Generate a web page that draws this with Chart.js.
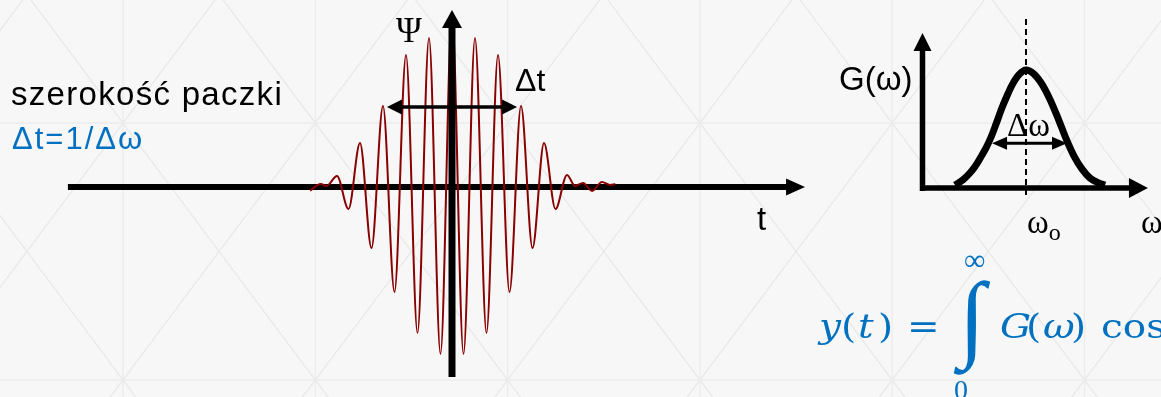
<!DOCTYPE html>
<html>
<head>
<meta charset="utf-8">
<script src="https://cdn.jsdelivr.net/npm/chart.js@4/dist/chart.umd.min.js"></script>
<style>
  html, body { margin: 0; padding: 0; }
  body { width: 1161px; height: 397px; overflow: hidden; position: relative; background: #f7f7f7; }
  #bg, #c { position: absolute; left: 0; top: 0; }
  .lbl { position: absolute; white-space: nowrap; line-height: normal; transform-origin: 0 0; }
  .bm { display: inline-block; width: 0; height: 0; vertical-align: baseline; }
</style>
</head>
<body>
<svg id="bg" width="1161" height="397" xmlns="http://www.w3.org/2000/svg"></svg>
<canvas id="c" width="1161" height="397"></canvas>
<div id="labels"></div>
<script>
// Wave packet Ψ(t): extrema of the carrier, t in carrier periods, Ψ in % of the central crest
const waveT   = [-6.17, -5.71, -5.45, -5.0, -4.5, -4.0, -3.5, -3.0, -2.5, -2.0, -1.5, -1.0, -0.5, 0.0,
                  0.5, 1.0, 1.5, 2.0, 2.5, 3.0, 3.5, 4.0, 4.5, 5.0, 5.35, 5.7, 6.09, 6.52, 6.87, 7.1];
const wavePsi = [-2.1, 1.7, 0.6, 6.4, -12.7, 25.4, -35.3, 46.8, -60.7, 76.3, -84.4, 86.1, -96.5, 100,
                 -96.5, 86.1, -84.4, 76.3, -60.7, 46.8, -35.3, 25.4, -12.7, 6.9, 0.6, 2.3, -2.3, 2.9, 1.2, 1.7];

// Spectrum G(ω), normalised to its maximum at ω0
const specOmega = [1.57, 1.96, 2.29, 2.53, 2.82, 3.07, 3.31, 3.55, 3.84, 4.08, 4.32, 4.66, 5.0,
                   5.39, 5.77, 6.16, 6.55, 6.93, 7.32, 7.71, 8.09, 8.48, 8.82];
const specG     = [0.025, 0.07, 0.127, 0.18, 0.263, 0.34, 0.43, 0.54, 0.68, 0.78, 0.87, 0.96, 1.0,
                   0.965, 0.88, 0.75, 0.59, 0.42, 0.27, 0.16, 0.085, 0.045, 0.025];
const omega0 = 5.0;

// Widths marked by the double arrows
const deltaT = [-2.83, 2.83];      // at Ψ = 46.2
const deltaTLevel = 46.2;
const deltaOmega = [3.36, 6.98];   // at G = 0.38
const deltaOmegaLevel = 0.38;

// ---- background lattice (slide decoration) ----
(function drawBackground() {
  const svg = document.getElementById('bg');
  const ns = 'http://www.w3.org/2000/svg';
  const add = (x1, y1, x2, y2, c) => {
    const l = document.createElementNS(ns, 'line');
    l.setAttribute('x1', x1); l.setAttribute('y1', y1);
    l.setAttribute('x2', x2); l.setAttribute('y2', y2);
    l.setAttribute('stroke', c); l.setAttribute('stroke-width', '1.3');
    svg.appendChild(l);
  };
  const step = 192.3, x0 = 123, yA = 123, yB = 380, k = (yB - yA) / step;
  for (let i = -4; i <= 9; i++) {
    const x = x0 + i * step;
    add(x, 0, x, 397, '#ececec');
    add(x - 30 / k, 410, x + 420 / k, -40, '#e9e9e9');
    add(x + 30 / k, 410, x - 420 / k, -40, '#e9e9e9');
  }
  add(0, yA, 1161, yA, '#ececec');
  add(0, yB, 1161, yB, '#ececec');
})();

// ---- arrows and axes drawn in data coordinates ----
function arrow(ctx, x1, y1, x2, y2, width, headLen, headHalf, twoSided) {
  const dx = x2 - x1, dy = y2 - y1, len = Math.hypot(dx, dy);
  const ux = dx / len, uy = dy / len, px = -uy, py = ux;
  const sx = twoSided ? x1 + ux * headLen * 0.8 : x1, sy = twoSided ? y1 + uy * headLen * 0.8 : y1;
  const ex = x2 - ux * headLen * 0.8, ey = y2 - uy * headLen * 0.8;
  ctx.save();
  ctx.strokeStyle = '#000'; ctx.fillStyle = '#000'; ctx.lineWidth = width; ctx.lineCap = 'butt';
  ctx.beginPath(); ctx.moveTo(sx, sy); ctx.lineTo(ex, ey); ctx.stroke();
  const head = (tx, ty, dxu, dyu) => {
    ctx.beginPath();
    ctx.moveTo(tx, ty);
    ctx.lineTo(tx - dxu * headLen + px * headHalf, ty - dyu * headLen + py * headHalf);
    ctx.lineTo(tx - dxu * headLen - px * headHalf, ty - dyu * headLen - py * headHalf);
    ctx.closePath(); ctx.fill();
  };
  head(x2, y2, ux, uy);
  if (twoSided) head(x1, y1, -ux, -uy);
  ctx.restore();
}

const diagramAxes = {
  id: 'diagramAxes',
  beforeDatasetsDraw(chart, args, o) {
    const { ctx, scales: s } = chart;
    // time axis of the packet
    arrow(ctx, s.xt.getPixelForValue(o.tAxis[0]), s.yp.getPixelForValue(0),
               s.xt.getPixelForValue(o.tAxis[1]), s.yp.getPixelForValue(0), 6, 19, 8.5, false);
    // spectrum axes
    arrow(ctx, s.xw.getPixelForValue(0), s.yg.getPixelForValue(o.gAxis[0]),
               s.xw.getPixelForValue(0), s.yg.getPixelForValue(o.gAxis[1]), 5.5, 18, 9, false);
    arrow(ctx, s.xw.getPixelForValue(o.wAxis[0]), s.yg.getPixelForValue(0),
               s.xw.getPixelForValue(o.wAxis[1]), s.yg.getPixelForValue(0), 5.5, 19, 10, false);
    // ω0 marker
    ctx.save();
    ctx.strokeStyle = '#000'; ctx.lineWidth = 2; ctx.setLineDash([6, 4]);
    const xw0 = s.xw.getPixelForValue(omega0);
    ctx.beginPath();
    ctx.moveTo(xw0, s.yg.getPixelForValue(o.omega0Line[1]));
    ctx.lineTo(xw0, s.yg.getPixelForValue(o.omega0Line[0]));
    ctx.stroke();
    ctx.restore();
  },
  afterDatasetsDraw(chart, args, o) {
    const { ctx, scales: s } = chart;
    // Ψ axis
    arrow(ctx, s.xt.getPixelForValue(0), s.yp.getPixelForValue(o.psiAxis[0]),
               s.xt.getPixelForValue(0), s.yp.getPixelForValue(o.psiAxis[1]), 7, 18, 10, false);
    // Δt
    arrow(ctx, s.xt.getPixelForValue(deltaT[0]), s.yp.getPixelForValue(deltaTLevel),
               s.xt.getPixelForValue(deltaT[1]), s.yp.getPixelForValue(deltaTLevel), 3.5, 15, 7.5, true);
    // Δω
    arrow(ctx, s.xw.getPixelForValue(deltaOmega[0]), s.yg.getPixelForValue(deltaOmegaLevel),
               s.xw.getPixelForValue(deltaOmega[1]), s.yg.getPixelForValue(deltaOmegaLevel), 3, 15, 6.5, true);
  }
};

new Chart(document.getElementById('c'), {
  type: 'scatter',
  data: {
    datasets: [
      {
        label: 'Ψ(t)',
        data: waveT.map((t, i) => ({ x: t, y: wavePsi[i] })),
        xAxisID: 'xt', yAxisID: 'yp',
        showLine: true, borderColor: '#880000', borderWidth: 2,
        pointRadius: 0, cubicInterpolationMode: 'monotone', clip: false
      },
      {
        label: 'G(ω)',
        data: specOmega.map((w, i) => ({ x: w, y: specG[i] })),
        xAxisID: 'xw', yAxisID: 'yg',
        showLine: true, borderColor: '#000', borderWidth: 7, borderCapStyle: 'butt',
        borderJoinStyle: 'round', pointRadius: 0, cubicInterpolationMode: 'monotone', clip: false
      }
    ]
  },
  options: {
    responsive: false,
    animation: false,
    events: [],
    layout: { padding: 0 },
    scales: {
      xt: { type: 'linear', position: 'bottom', display: false, min: -19.652, max: 30.826 },
      yp: { type: 'linear', position: 'left', display: false, min: -121.39, max: 108.09 },
      xw: { type: 'linear', position: 'bottom', display: false, min: -44.565, max: 11.522 },
      yg: { type: 'linear', position: 'left', display: false, min: -1.7712, max: 1.5932 }
    },
    plugins: {
      legend: { display: false },
      tooltip: { enabled: false },
      diagramAxes: {
        tAxis: [-16.7, 15.35],
        psiAxis: [-109.8, 102.3],
        gAxis: [-0.025, 1.314],
        wAxis: [-0.12, 10.89],
        omega0Line: [-0.076, 1.432]
      }
    }
  },
  plugins: [diagramAxes]
});

// ---- text ----
const SANS = '"Liberation Sans", Arial, sans-serif';
const SERIF = '"Liberation Serif", "Times New Roman", serif';
const MATH = '"DejaVu Serif", serif';
const BLUE = '#0070c0';
const measureCtx = document.createElement('canvas').getContext('2d');

// place a label so that its baseline sits at `base`; with inkAlign the glyph ink starts at x
function addLabel(html, x, base, style, inkAlign) {
  const d = document.createElement('div');
  d.className = 'lbl';
  d.innerHTML = html + '<span class="bm"></span>';
  Object.assign(d.style, style);
  document.getElementById('labels').appendChild(d);
  const m = d.querySelector('.bm');
  const off = m.offsetTop;
  let left = x;
  if (inkAlign) {
    measureCtx.font = `${style.fontStyle || 'normal'} ${style.fontSize} ${style.fontFamily}`;
    left = x + measureCtx.measureText(d.textContent).actualBoundingBoxLeft;
  }
  d.style.left = left + 'px';
  d.style.top = (base - off) + 'px';
  return d;
}
const serifSpan = t => `<span style="font-family:${SERIF}">${t}</span>`;

addLabel('szerokość paczki', 11, 105, { fontFamily: SANS, fontSize: '33px', letterSpacing: '1.3px', color: '#000' });
addLabel('Δt=1/Δ' + serifSpan('ω'), 12, 149, { fontFamily: SANS, fontSize: '31px', letterSpacing: '2px', color: BLUE });
addLabel('Ψ', 396, 42, { fontFamily: SERIF, fontSize: '35px', color: '#000' });
addLabel('Δt', 515, 91, { fontFamily: SANS, fontSize: '32px', color: '#000' });
addLabel('t', 757, 230, { fontFamily: SANS, fontSize: '33px', color: '#000' });
addLabel('G(' + serifSpan('ω') + ')', 839, 90, { fontFamily: SANS, fontSize: '33px', color: '#000' });
addLabel('Δω', 1007, 136, { fontFamily: SERIF, fontSize: '33px', color: '#000' });
addLabel('ω<span style="font-size:24px;position:relative;top:7px">o</span>', 1027, 233, { fontFamily: SERIF, fontSize: '33px', color: '#000' });
addLabel('ω', 1141, 233, { fontFamily: SERIF, fontSize: '33px', color: '#000' });

// y(t) = ∫_0^∞ G(ω) cos …  (wide math-italic look: glyphs stretched horizontally)
const formula = [
  ['y', 817, 'italic'], ['(', 843, 'normal'], ['t', 859, 'italic'], [')', 880, 'normal'],
  ['=', 910, 'normal'], ['G', 1000, 'italic'], ['(', 1028, 'normal'], ['ω', 1043, 'italic'],
  [')', 1073, 'normal'], ['cos', 1102, 'normal']
];
formula.forEach(([t, x, st]) =>
  addLabel(t, x, 338, { fontFamily: MATH, fontSize: '33px', fontStyle: st, color: BLUE,
                        transform: 'scaleX(1.18)' }, true));
addLabel('∞', 965, 270, { fontFamily: SERIF, fontSize: '30px', color: BLUE }, true);
addLabel('0', 955, 399, { fontFamily: SERIF, fontSize: '28px', color: BLUE }, true);
addLabel('∫', 953, 349, { fontFamily: SERIF, fontSize: '96px', color: BLUE }, true);
</script>
</body>
</html>
